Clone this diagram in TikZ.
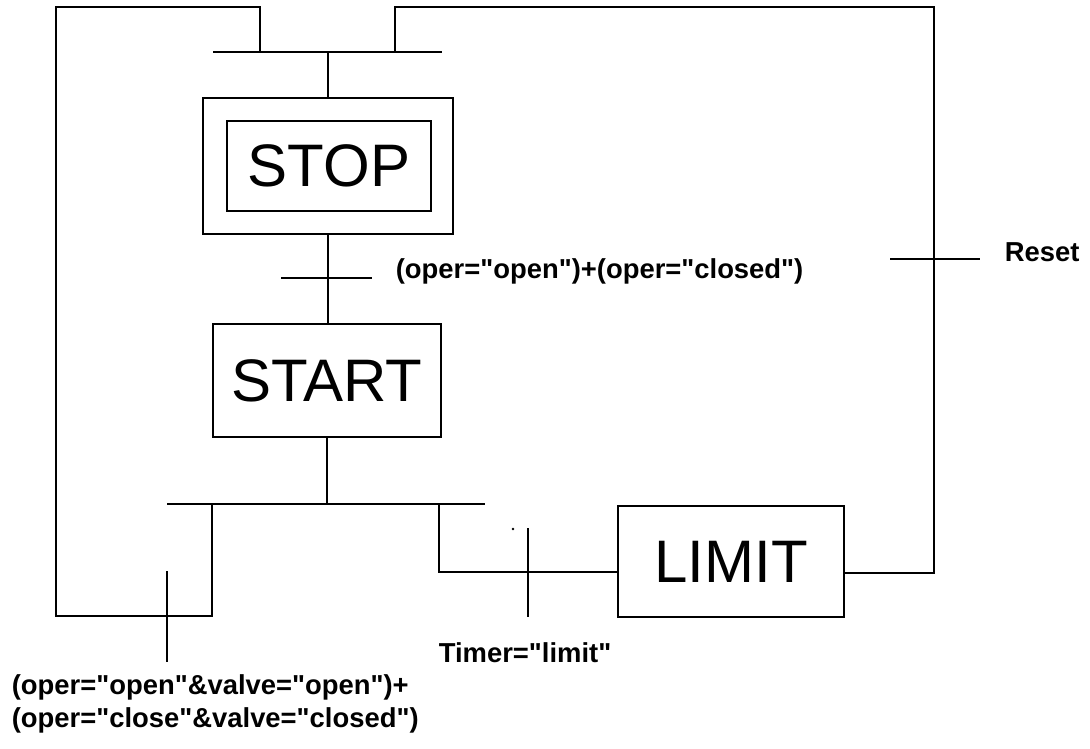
\documentclass[tikz,border=0pt]{standalone}
\usepackage{fontspec}
\setmainfont{Liberation Sans}
\newfontfamily\plainsans{Liberation Sans}
\begin{document}
\begin{tikzpicture}[x=1pt,y=-1pt, line width=1.7pt,
  statebox/.style={draw, inner sep=0pt, font=\plainsans\fontsize{60}{60}\selectfont},
  lbl/.style={font=\plainsans\bfseries\fontsize{27.4}{33}\selectfont, inner sep=0pt}]
\useasboundingbox (0,0) rectangle (1090,749);

% steps
\node[draw, minimum width=250pt, minimum height=136pt, inner sep=0pt] (stopout) at (328,166) {};
\node[statebox, minimum width=204pt, minimum height=90pt] (stop) at (329,166) {STOP};
\node[statebox, minimum width=228pt, minimum height=113pt] (start) at (327,380.5) {START};
\node[statebox, minimum width=226pt, minimum height=111pt] (limit) at (731,561.5) {LIMIT};

% junction points
\coordinate (tbL) at (213,52);
\coordinate (tbR) at (442,52);
\coordinate (tlr) at (260,52);
\coordinate (trr) at (395,52);
\coordinate (bbL) at (167,504);
\coordinate (bbR) at (485,504);
\coordinate (lr) at (212,504);
\coordinate (rr) at (439,504);
\coordinate (limW) at (618,572);
\coordinate (limE) at (844,573);
\coordinate (tl) at (56,7);
\coordinate (tr) at (934,7);

% bars
\draw (tbL) -- (tbR);
\draw (bbL) -- (bbR);

% main flow
\draw (stopout.north) -- (stopout.north |- tbL);
\draw (stopout.south) -- (stopout.south |- start.north);
\draw (start.south) -- (start.south |- bbL);

% left loop back to top
\draw (lr) -- (212,616) -| (tl) -| (tlr);
% right branch to LIMIT
\draw (rr) |- (limW);
% LIMIT back to top
\draw (limE) -| (tr) -| (trr);

% transitions
\coordinate (t1a) at (281,278); \coordinate (t1b) at (372,278);
\draw (t1a) -- (t1b);
\coordinate (t2a) at (167,571); \coordinate (t2b) at (167,662);
\draw (t2a) -- (t2b);
\coordinate (t3a) at (528,528); \coordinate (t3b) at (528,617);
\draw (t3a) -- (t3b);
\coordinate (t4a) at (890,259); \coordinate (t4b) at (980,259);
\draw (t4a) -- (t4b);

% small dot
\fill (513,529) circle (1.3pt);

% labels
\node[lbl, anchor=west] (l1) at (395,271) {(oper="open")+(oper="closed")};
\node[lbl, anchor=west, align=left] (l2) at (11,703.5) {(oper="open"\&valve="open")+\\(oper="close"\&valve="closed")};
\node[lbl, anchor=west] (l3) at (438,653) {Timer="limit"};
\node[lbl, anchor=west] (l4) at (1004,252) {Reset};
\end{tikzpicture}
\end{document}
